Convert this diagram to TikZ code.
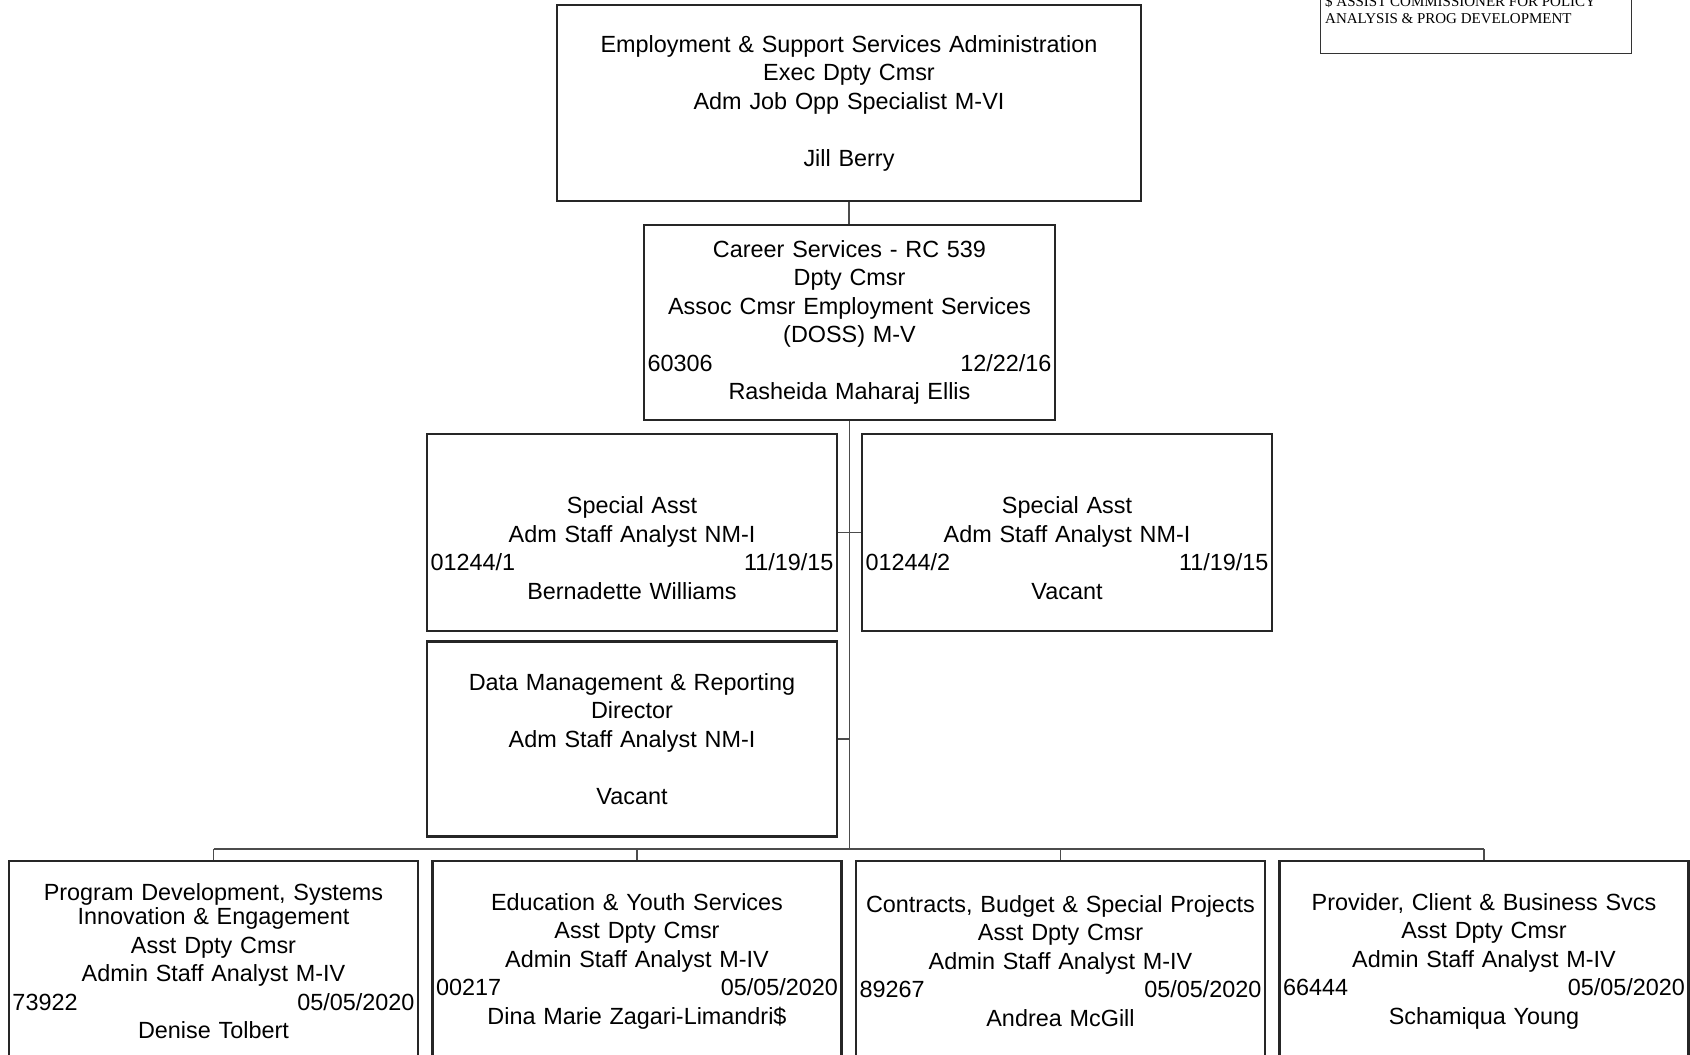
\documentclass[tikz,border=0pt]{standalone}
\usepackage{fontspec}
\setmainfont{Liberation Sans}
\newfontfamily\notefont{Liberation Serif}
\usepackage{tikz}
\usetikzlibrary{positioning}

% line number on the left, date on the right
\newcommand{\posline}[2]{\makebox[\hsize]{#1\hfill#2}}

\begin{document}
\begin{tikzpicture}[x=1pt, y=-1pt,
    posbox/.style 2 args={draw=black!85, line width=2.4pt, fill=white, inner sep=0pt,
        align=center, minimum width=#1, text width=#1-7pt, minimum height=#2,
        font=\fontsize{23.4}{28.5}\selectfont},
    notebox/.style={draw=black!80, line width=1.2pt, inner sep=0pt},
    notetext/.style={align=left, inner sep=0pt, font=\notefont\fontsize{15}{16.5}\selectfont},
    link/.style={draw=black!70, line width=1.2pt}]
    \useasboundingbox (0,0) rectangle (1690,1055);
    \clip (0,0) rectangle (1690,1055);
    % Upper chain
    \node[posbox={584pt}{196pt}] (esa) at (849,103)
        {Employment \& Support Services Administration\\Exec Dpty Cmsr\\Adm Job Opp Specialist M-VI\\\strut\\Jill Berry};
    \node[posbox={411pt}{195pt}] (career) at (849.5,322.5)
        {Career Services - RC 539\\Dpty Cmsr\\Assoc Cmsr Employment Services\\(DOSS) M-V\\\posline{60306}{12/22/16}\\Rasheida Maharaj Ellis};
    % Staff positions
    \node[posbox={410pt}{197pt}] (asst1) at (632,532.5)
        {\strut\\Special Asst\\Adm Staff Analyst NM-I\\\posline{01244/1}{11/19/15}\\Bernadette Williams};
    \node[posbox={410pt}{197pt}] (asst2) at (1067,532.5)
        {\strut\\Special Asst\\Adm Staff Analyst NM-I\\\posline{01244/2}{11/19/15}\\Vacant};
    \node[posbox={410pt}{195pt}] (datamgmt) at (632,739)
        {Data Management \& Reporting\\Director\\Adm Staff Analyst NM-I\\\strut\\Vacant};
    % Asst Dpty Cmsr row
    \node[posbox={409pt}{200pt}] (progdev) at (213.5,961)
        {Program Development, Systems\\[-4pt]Innovation \& Engagement\\Asst Dpty Cmsr\\Admin Staff Analyst M-IV\\\posline{73922}{05/05/2020}\\Denise Tolbert};
    \node[posbox={409pt}{200pt}] (eduyouth) at (637,961)
        {Education \& Youth Services\\Asst Dpty Cmsr\\Admin Staff Analyst M-IV\\\posline{00217}{05/05/2020}\\Dina Marie Zagari-Limandri\$};
    \node[posbox={409pt}{200pt}] (contracts) at (1060.5,961)
        {Contracts, Budget \& Special Projects\\Asst Dpty Cmsr\\Admin Staff Analyst M-IV\\\posline{89267}{05/05/2020}\\Andrea McGill};
    \node[posbox={409pt}{200pt}] (provider) at (1484,961)
        {Provider, Client \& Business Svcs\\Asst Dpty Cmsr\\Admin Staff Analyst M-IV\\\posline{66444}{05/05/2020}\\Schamiqua Young};
    % Note box, top right
    \node[notebox, minimum width=311pt, minimum height=100pt, anchor=south west] (policy) at (1320,54) {};
    \node[notetext, anchor=north west] (policytxt) at (1325,-4.5)
        {\$ ASSIST COMMISSIONER FOR POLICY\\ANALYSIS \& PROG DEVELOPMENT};
    % Connectors
    \coordinate (bus) at (849,849);
    \draw[link] (esa.south) -- (esa.south |- career.north);
    \draw[link] (career.south) -- (career.south |- bus);
    \draw[link] (asst1.east) -- (asst2.west);
    \draw[link] (datamgmt.east) -- (datamgmt.east -| career.south);
    \draw[link] (progdev.north |- bus) -- (provider.north |- bus);
    \foreach \n in {progdev,eduyouth,contracts,provider}
        \draw[link] (\n.north) -- (\n.north |- bus);
\end{tikzpicture}
\end{document}
